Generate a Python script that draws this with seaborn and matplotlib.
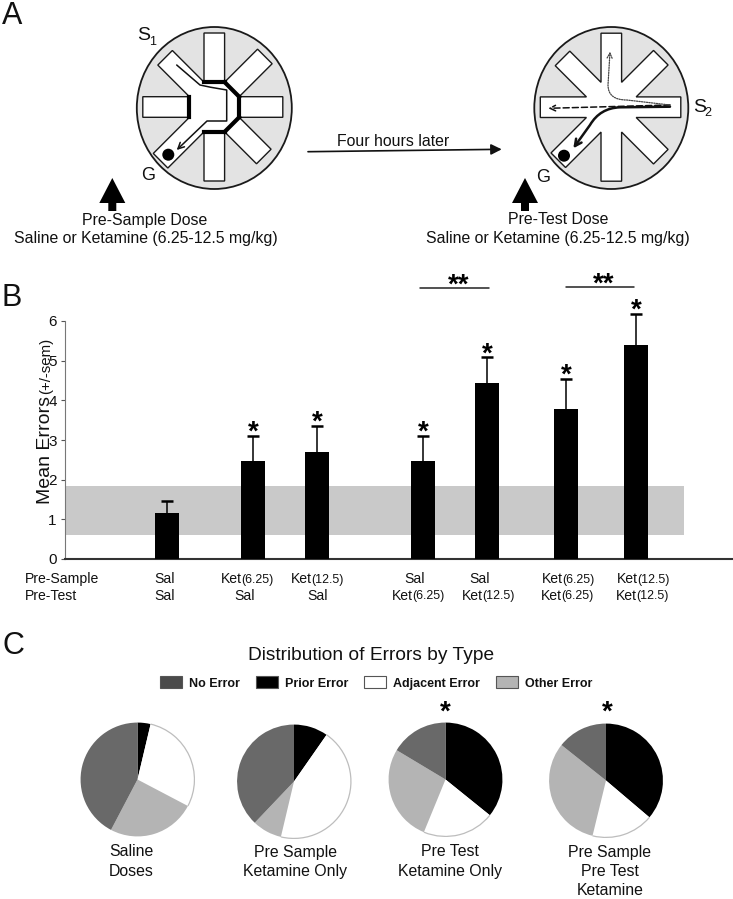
import numpy as np
import pandas as pd
import matplotlib
matplotlib.use("Agg")
import matplotlib.pyplot as plt
from matplotlib.patches import Polygon, Ellipse, Arc, FancyArrowPatch, Patch
from matplotlib.path import Path
import seaborn as sns

# ---------- data ----------
conditions = ["Sal/Sal", "Ket6/Sal", "Ket12/Sal", "Sal/Ket6", "Sal/Ket12", "Ket6/Ket6", "Ket12/Ket12"]
mean_errors = [1.17, 2.46, 2.70, 2.46, 4.44, 3.78, 5.40]
sem_errors = [0.29, 0.64, 0.65, 0.64, 0.64, 0.77, 0.78]
significant = [False, True, True, True, True, True, True]
band_low, band_high = 0.6, 1.83
y_ticks = [0, 1, 2, 3, 4, 5, 6]
pre_sample = ["Sal", "Ket(6.25)", "Ket(12.5)", "Sal", "Sal", "Ket(6.25)", "Ket(12.5)"]
pre_test = ["Sal", "Sal", "Sal", "Ket(6.25)", "Ket(12.5)", "Ket(6.25)", "Ket(12.5)"]

error_types = ["Prior Error", "Adjacent Error", "Other Error", "No Error"]
pie_saline = [3.7, 29.0, 25.0, 42.3]
pie_sample = [9.7, 44.0, 8.4, 37.9]
pie_test = [35.8, 20.4, 27.4, 16.4]
pie_both = [36.2, 17.6, 31.9, 14.3]
pie_captions = [["Saline", "Doses"], ["Pre Sample", "Ketamine Only"],
                ["Pre Test", "Ketamine Only"], ["Pre Sample", "Pre Test", "Ketamine"]]
pie_star = [False, False, True, True]

# ---------- layout ----------
W, H = 733, 899
bar_slots = [167, 253, 317, 423, 487, 566, 636]
row1_x = [165, 248, 318, 415, 480, 569, 644]
row2_x = [165, 245, 318, 419, 489, 568, 643]
pie_boxes = [(80, 722), (236.5, 724), (388, 722), (548.5, 723)]
pie_size = 115
caption_x = [131.5, 295, 450, 610]
star_x = [None, None, 445.7, 607.6]
wedge_colors = ["#000000", "#ffffff", "#b4b4b4", "#696969"]
legend_colors = {"No Error": "#4a4a4a", "Prior Error": "#000000",
                 "Adjacent Error": "#ffffff", "Other Error": "#b4b4b4"}

sns.set_style("white")
plt.rcParams["font.family"] = ["Liberation Sans", "DejaVu Sans"]
fig = plt.figure(figsize=(W / 100, H / 100), dpi=100)
TXT = "#111111"


def axes_px(x0, y0, x1, y1, **kw):
    return fig.add_axes([x0 / W, 1 - y1 / H, (x1 - x0) / W, (y1 - y0) / H], **kw)


# ---------- panel B ----------
ax = axes_px(65, 321, 733, 559)
df = pd.DataFrame({"slot": bar_slots, "mean": mean_errors, "cond": conditions})
tops = np.add(mean_errors, sem_errors)
ax.fill_between([65, 684], band_low, band_high, color="#c9c9c9", lw=0, zorder=0)
ax.vlines(bar_slots, mean_errors, tops, color="black", lw=1.1, zorder=2, clip_on=False)
ax.plot(bar_slots, tops, ls="", marker="_", ms=8.6, mew=1.8, color="black", zorder=2, clip_on=False)
sns.barplot(data=df, x="slot", y="mean", native_scale=True, color="black", saturation=1,
            width=0.381, errorbar=None, ax=ax, zorder=3, edgecolor="black", linewidth=0)
ax.set_xlim(65, 733)
ax.set_ylim(0, 6)
ax.set_xticks([])
ax.set_yticks(y_ticks)
ax.set_xlabel("")
ax.set_ylabel("")
ax.patch.set_alpha(0)
ax.tick_params(axis="y", left=True, length=3, width=0.8, color="#555555", labelsize=11,
               labelcolor=TXT, pad=3)
for s in ("top", "right"):
    ax.spines[s].set_visible(False)
ax.spines["left"].set_color("#777777")
ax.spines["left"].set_linewidth(0.8)
ax.spines["bottom"].set_color("#333333")
ax.spines["bottom"].set_linewidth(1.5)
for x, top, sig in zip(bar_slots, tops, significant):
    if sig:
        ax.annotate("*", (x, top), xytext=(0, -7), textcoords="offset points", ha="center",
                    va="bottom", fontsize=20, fontweight="bold", color="black", annotation_clip=False)

# ---------- overlay for panel A and all free text ----------
ov = axes_px(0, 0, W, H, zorder=10)
ov.set_xlim(0, W)
ov.set_ylim(H, 0)
ov.axis("off")
ov.patch.set_alpha(0)


def t(x, y, s, size=11.4, ha="center", **kw):
    return ov.text(x, y, s, fontsize=size, ha=ha, va="center", color=TXT, **kw)


for x, y, s in [(2, 16, "A"), (2, 298, "B"), (2, 646, "C")]:
    t(x, y, s, size=22, ha="left")

ARM_ANGLES = np.deg2rad(np.arange(0, 360, 45))
HW = 10.3
NOTCH = HW / np.sin(np.deg2rad(22.5))


def star(cx, cy, lengths):
    """Outline of the eight-arm maze. Angle 0 = right, counted counter-clockwise on screen."""
    pts, notches = [], []
    c = np.array([cx, cy])
    for a, L in zip(ARM_ANGLES, lengths):
        d = np.array([np.cos(a), -np.sin(a)])
        n = np.array([-d[1], d[0]])  # points to the clockwise side on screen
        a2 = a - np.deg2rad(22.5)
        nt = c + NOTCH * np.array([np.cos(a2), -np.sin(a2)])
        pts += [nt, c + d * L + n * HW, c + d * L - n * HW]
        notches.append(nt)
    return np.array(pts), notches


def maze(cx, cy, circle_y, rx, ry, lengths, blocked):
    ov.add_patch(Ellipse((cx, circle_y), 2 * rx, 2 * ry, fc="#e3e3e3", ec="#1a1a1a", lw=1.3))
    pts, notches = star(cx, cy, lengths)
    ov.add_patch(Polygon(pts, closed=True, fc="white", ec="#1a1a1a", lw=1.0))
    # notch i lies clockwise of arm i, notch i+1 counter-clockwise of it
    for i in blocked:
        p, q = notches[i], notches[(i + 1) % 8]
        ov.plot([p[0], q[0]], [p[1], q[1]], color="black", lw=3.0, solid_capstyle="projecting")


def curve(verts, codes, lw=1.0, ls="-", color="#111111", head=8):
    ov.add_patch(FancyArrowPatch(path=Path(verts, codes), arrowstyle="->", mutation_scale=head,
                                 lw=lw, ls=ls, color=color, shrinkA=0, shrinkB=0))


M, L3, C3 = Path.MOVETO, Path.LINETO, Path.CURVE3
# lengths: right, upper right, top, upper left, left, lower left, bottom, lower right
maze(214.3, 107, 108, 77.5, 81, [68.5, 71.5, 74, 69.6, 71.5, 76, 74, 70], [0, 1, 2, 4, 6, 7])
curve([(176.7, 65), (200, 85), (208, 87), (226.7, 90), (226.7, 106.7), (226.7, 121), (207, 121), (176.7, 150)],
      [M, L3, C3, C3, C3, C3, L3, L3], lw=1.1, head=11)
ov.add_patch(Ellipse((168.3, 154.7), 12, 12, fc="black", ec="none"))

maze(611.3, 107.2, 108, 77, 81, [69.5, 70, 74, 69, 71, 75, 74, 70], [])
curve([(670, 106.7), (620, 107.3), (600, 108), (590, 125), (573.3, 148.3)], [M, L3, C3, C3, L3], lw=1.8, head=12)
curve([(670, 105), (548.3, 108.3)], [M, L3], lw=1.1, ls=(0, (4, 2)), head=10)
curve([(670, 105), (626.7, 100), (608, 100), (608, 85), (610, 51.7)], [M, L3, C3, C3, L3], lw=0.9, ls=(0, (1, 1)),
      color="#444444", head=9)
ov.add_patch(Ellipse((564, 155.7), 12, 12, fc="black", ec="none"))

for tip in (112.3, 525):
    ov.add_patch(Polygon([(tip, 178), (tip + 13, 203), (tip + 4, 203), (tip + 4, 211),
                          (tip - 4, 211), (tip - 4, 203), (tip - 13, 203)], closed=True, fc="black", ec="none"))
ov.add_patch(FancyArrowPatch((308, 151.7), (501.7, 149.3), arrowstyle="-|>", mutation_scale=16, lw=1.2,
                             color="#111111", shrinkA=0, shrinkB=0))

t(144, 35, "S", size=14)
t(153, 42, "1", size=9)
t(147.7, 175, "G", size=13)
t(699.3, 107.3, "S", size=14)
t(708.3, 113, "2", size=9)
t(542.7, 177.7, "G", size=13)
t(393, 141, "Four hours later")
t(145, 220, "Pre-Sample Dose")
t(145.7, 238.7, "Saline or Ketamine (6.25-12.5 mg/kg)")
t(558, 219, "Pre-Test Dose")
t(557.5, 239, "Saline or Ketamine (6.25-12.5 mg/kg)")

# y axis title (two sizes)
t(45.5, 450, "Mean Errors", size=14, rotation=90)
t(46, 365.5, "(+/-sem)", size=10.8, rotation=90)

# significance brackets
for x0, x1, y, sx, sy in [(420, 489, 288, 459, 286), (566, 634, 287, 604, 285)]:
    ov.plot([x0, x1], [y, y], color="#222222", lw=1.1)
    ov.text(sx, sy, "**", fontsize=20, fontweight="bold", ha="center", va="center", color="black")


# group labels: dose in smaller type
def dose_label(x, y, s):
    if "(" in s:
        head, tail = s.split("(")
        t(x - 6.5, y, head, size=10.1, ha="right")
        t(x - 6.5, y + 0.5, "(" + tail, size=8.9, ha="left")
    else:
        t(x, y, s, size=10.1)


t(25, 579, "Pre-Sample", size=10.1, ha="left")
t(25, 596, "Pre-Test", size=10.1, ha="left")
for x, s in zip(row1_x, pre_sample):
    dose_label(x, 579, s)
for x, s in zip(row2_x, pre_test):
    dose_label(x, 596, s)

# ---------- panel C ----------
t(371.5, 655, "Distribution of Errors by Type", size=13.8)
leg_order = ["No Error", "Prior Error", "Adjacent Error", "Other Error"]
handles = [Patch(fc=legend_colors[k], ec="#555555", lw=0.8, label=k) for k in leg_order]
leg = ov.legend(handles=handles, loc="center", bbox_to_anchor=(376.5, 683), bbox_transform=ov.transData, ncol=4,
                frameon=False, prop={"size": 9.0, "weight": "bold"}, handlelength=1.76, handleheight=1.04,
                handletextpad=0.56, columnspacing=1.27, borderpad=0, labelcolor=TXT)

for series, (px, py), cap, cx, sx, sig in zip([pie_saline, pie_sample, pie_test, pie_both], pie_boxes,
                                              pie_captions, caption_x, star_x, pie_star):
    pa = axes_px(px, py, px + pie_size, py + pie_size)
    pa.pie(series, colors=wedge_colors, startangle=90, counterclock=False, radius=1,
           wedgeprops={"linewidth": 0})
    pa.set_xlim(-1.01, 1.01)
    pa.set_ylim(-1.01, 1.01)
    start = 90 - series[0] * 3.6
    end = 90 - (series[0] + series[1]) * 3.6
    pa.add_patch(Arc((0, 0), 2, 2, theta1=end, theta2=start, color="#bdbdbd", lw=0.9))
    for i, line in enumerate(cap):
        t(cx, 852 + 19.3 * i, line)
    if sig:
        ov.text(sx, 713, "*", fontsize=20, fontweight="bold", ha="center", va="center", color="black")

fig.savefig("out.png", dpi=100, facecolor="white")
